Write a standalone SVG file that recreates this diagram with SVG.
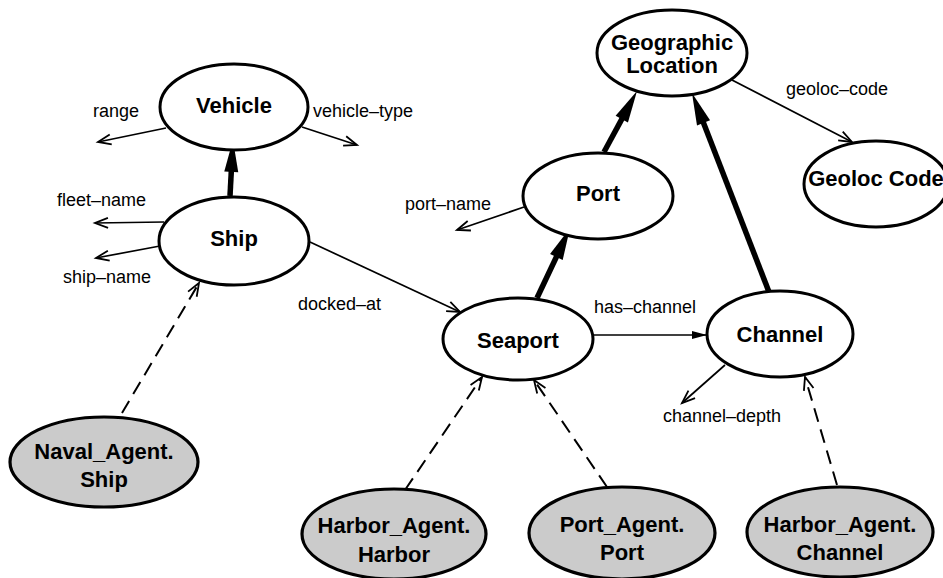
<svg xmlns="http://www.w3.org/2000/svg" width="943" height="578" viewBox="0 0 943 578">
<style>
  .node { fill: #ffffff; stroke: #000000; stroke-width: 3; }
  .agent { fill: #cbcbcb; stroke: #000000; stroke-width: 3.2; }
  .nlabel { font-family: "Liberation Sans", Arial, sans-serif; font-weight: bold; font-size: 22px; text-anchor: middle; fill: #000; }
  .elabel { font-family: "Liberation Sans", Arial, sans-serif; font-size: 18px; fill: #000; }
  .thin { stroke: #000; stroke-width: 1.7; fill: none; marker-end: url(#open); }
  .filled { stroke: #000; stroke-width: 1.7; fill: none; marker-end: url(#solid); }
  .thick { stroke: #000; stroke-width: 5.5; fill: none; marker-end: url(#fat); }
  .dash { stroke: #000; stroke-width: 2; fill: none; stroke-dasharray: 14 8; marker-end: url(#open); }
</style>
<defs>
  <marker id="open" markerUnits="userSpaceOnUse" markerWidth="16" markerHeight="12" refX="13" refY="5" orient="auto" overflow="visible">
    <path d="M0,0 L13,5 L0,10" fill="none" stroke="#000" stroke-width="1.8"/>
  </marker>
  <marker id="solid" markerUnits="userSpaceOnUse" markerWidth="16" markerHeight="10" refX="15" refY="4" orient="auto" overflow="visible">
    <path d="M0,0 L15,4 L0,8 z" fill="#000"/>
  </marker>
  <marker id="fat" markerUnits="userSpaceOnUse" markerWidth="34" markerHeight="16" refX="12" refY="7" orient="auto" overflow="visible">
    <path d="M0,0 L32,7 L0,14 z" fill="#000"/>
  </marker>
</defs>

<g id="connectors">
  <line class="thick" x1="230" y1="196" x2="231.9" y2="160"/>
  <line class="thick" x1="537" y1="298" x2="561.5" y2="246.1"/>
  <line class="thick" x1="604" y1="152" x2="627.5" y2="108.6"/>
  <line class="thick" x1="769" y1="292" x2="699.2" y2="111.7"/>
  <line class="thin" x1="166" y1="128" x2="98" y2="142"/>
  <line class="thin" x1="302" y1="127" x2="357" y2="145"/>
  <line class="thin" x1="164" y1="222" x2="95" y2="223"/>
  <line class="thin" x1="160" y1="246" x2="96" y2="258"/>
  <line class="thin" x1="310" y1="242" x2="460" y2="312"/>
  <line class="thin" x1="524" y1="207" x2="457" y2="230"/>
  <line class="filled" x1="593" y1="335" x2="707" y2="335"/>
  <line class="thin" x1="725" y1="365" x2="682" y2="403"/>
  <line class="thin" x1="732" y1="80" x2="852" y2="142"/>
  <line class="dash" x1="122" y1="413" x2="199" y2="283"/>
  <line class="dash" x1="405" y1="490" x2="482" y2="377"/>
  <line class="dash" x1="607" y1="487" x2="534" y2="380"/>
  <line class="dash" x1="837" y1="485" x2="805" y2="377"/>
  <text class="elabel" x="93" y="117">range</text>
  <text class="elabel" x="313" y="117">vehicle–type</text>
  <text class="elabel" x="57" y="206">fleet–name</text>
  <text class="elabel" x="63" y="283">ship–name</text>
  <text class="elabel" x="298" y="310">docked–at</text>
  <text class="elabel" x="405" y="210">port–name</text>
  <text class="elabel" x="594" y="313">has–channel</text>
  <text class="elabel" x="663" y="422">channel–depth</text>
  <text class="elabel" x="786" y="95">geoloc–code</text>
</g>

<g id="vehicle">
  <ellipse class="node" cx="234" cy="107" rx="74" ry="43"/>
  <text class="nlabel" x="234" y="113">Vehicle</text>
</g>
<g id="ship">
  <ellipse class="node" cx="234" cy="241" rx="75" ry="44"/>
  <text class="nlabel" x="234" y="246">Ship</text>
</g>
<g id="geographic-location">
  <ellipse class="node" cx="672" cy="53" rx="75" ry="43"/>
  <text class="nlabel" x="672" y="50">Geographic</text>
  <text class="nlabel" x="672" y="73">Location</text>
</g>
<g id="port">
  <ellipse class="node" cx="598" cy="196" rx="75" ry="43"/>
  <text class="nlabel" x="598" y="201">Port</text>
</g>
<g id="geoloc-code">
  <ellipse class="node" cx="876" cy="184" rx="72" ry="43"/>
  <text class="nlabel" x="876" y="186">Geoloc Code</text>
</g>
<g id="seaport">
  <ellipse class="node" cx="518" cy="339" rx="75" ry="41"/>
  <text class="nlabel" x="518" y="348">Seaport</text>
</g>
<g id="channel">
  <ellipse class="node" cx="780" cy="334" rx="73" ry="43"/>
  <text class="nlabel" x="780" y="342">Channel</text>
</g>
<g id="naval-agent-ship">
  <ellipse class="agent" cx="104" cy="462" rx="94" ry="45"/>
  <text class="nlabel" x="104" y="459">Naval_Agent.</text>
  <text class="nlabel" x="104" y="487">Ship</text>
</g>
<g id="harbor-agent-harbor">
  <ellipse class="agent" cx="394" cy="534" rx="92" ry="45"/>
  <text class="nlabel" x="394" y="533">Harbor_Agent.</text>
  <text class="nlabel" x="394" y="562">Harbor</text>
</g>
<g id="port-agent-port">
  <ellipse class="agent" cx="622" cy="533" rx="93" ry="46"/>
  <text class="nlabel" x="622" y="532">Port_Agent.</text>
  <text class="nlabel" x="622" y="560">Port</text>
</g>
<g id="harbor-agent-channel">
  <ellipse class="agent" cx="840" cy="532" rx="93" ry="45"/>
  <text class="nlabel" x="840" y="532">Harbor_Agent.</text>
  <text class="nlabel" x="840" y="560">Channel</text>
</g>
</svg>
